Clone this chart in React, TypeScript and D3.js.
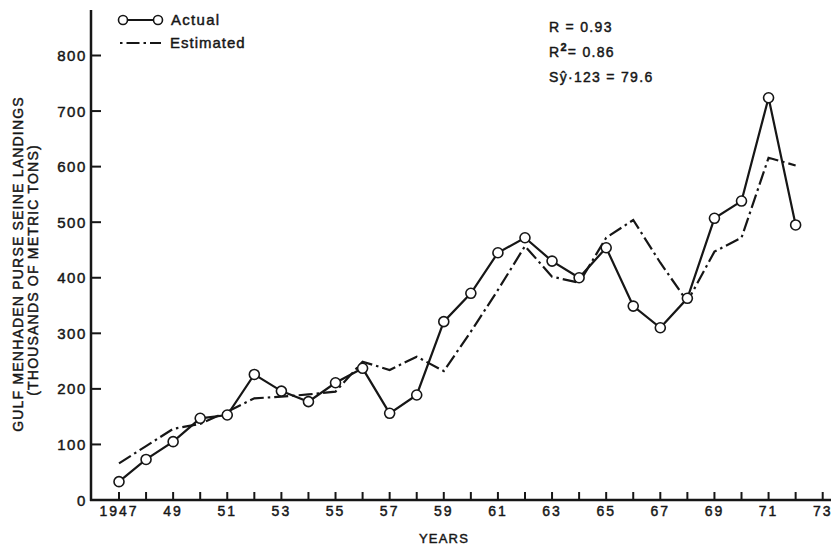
import React from "react";
import * as d3 from "d3";

const years = d3.range(1947, 1973);
const actual = [33, 73, 105, 147, 153, 226, 196, 177, 211, 237, 156, 189, 321, 372, 445, 472, 430, 400, 454, 349, 310, 363, 507, 538, 724, 495];
const estimated = [66, 97, 128, 137, 159, 183, 186, 190, 195, 249, 234, 258, 232, 303, 378, 457, 402, 391, 472, 504, 427, 357, 447, 472, 616, 602];
const yTicks = [0, 100, 200, 300, 400, 500, 600, 700, 800];
const xTickYears = d3.range(1947, 1974);
const xLabelYears = d3.range(1947, 1974, 2);

const W = 833, H = 546;
const FONT = "'Liberation Sans', Arial, Helvetica, sans-serif";
const INK = "#161616";
const TS = { stroke: INK, strokeWidth: 0.45 };

export default function App() {
  const x = d3.scaleLinear().domain([1947, 1973]).range([119, 822.7]);
  const y = d3.scaleLinear().domain([0, 800]).range([500, 55.5]);
  const axisX0 = 91;
  const axisY0 = 500;

  const lineA = d3.line<number>().x((_, i) => x(years[i])).y((d) => y(d));
  const dashPat = "14,4,2.5,4";

  return (
    <svg width={W} height={H} style={{ position: "absolute", left: 0, top: 0, background: "#fff" }} fontFamily={FONT}>
      <rect x={0} y={0} width={W} height={H} fill="#fff" />
      {/* axes */}
      <line x1={axisX0} y1={10} x2={axisX0} y2={axisY0 + 1} stroke={INK} strokeWidth={2.5} />
      <line x1={axisX0 - 1} y1={axisY0} x2={831} y2={axisY0} stroke={INK} strokeWidth={2.5} />
      {yTicks.map((t) => (
        <g key={t}>
          {t > 0 && <line x1={axisX0} x2={axisX0 + 10} y1={y(t)} y2={y(t)} stroke={INK} strokeWidth={2} />}
          <text x={87} y={y(t) + 5.5} textAnchor="end" fontSize={15} letterSpacing={1.6} fill={INK} {...TS}>{t}</text>
        </g>
      ))}
      {xTickYears.map((yr) => (
        <line key={yr} x1={x(yr)} x2={x(yr)} y1={axisY0} y2={axisY0 - 8} stroke={INK} strokeWidth={2} />
      ))}
      {xLabelYears.map((yr) => (
        <text key={yr} x={x(yr)} y={516} textAnchor="middle" fontSize={14} letterSpacing={2} fill={INK} {...TS}>
          {yr === 1947 ? "1947" : String(yr % 100)}
        </text>
      ))}
      <text x={444} y={543} textAnchor="middle" fontSize={13} letterSpacing={1.2} fill={INK} {...TS}>YEARS</text>
      {/* y axis label */}
      <text transform="translate(23,264) rotate(-90)" textAnchor="middle" fontSize={14} letterSpacing={1.2} fill={INK} {...TS}>
        GULF MENHADEN PURSE SEINE LANDINGS
      </text>
      <text transform="translate(38,270) rotate(-90)" textAnchor="middle" fontSize={14} letterSpacing={1.2} fill={INK} {...TS}>
        (THOUSANDS OF METRIC TONS)
      </text>

      {/* estimated */}
      <path d={lineA(estimated) ?? ""} fill="none" stroke={INK} strokeWidth={2.2} strokeDasharray={dashPat} />
      {/* actual */}
      <path d={lineA(actual) ?? ""} fill="none" stroke={INK} strokeWidth={2.2} />
      {actual.map((v, i) => (
        <circle key={i} cx={x(years[i])} cy={y(v)} r={5} fill="#fff" stroke={INK} strokeWidth={1.6} />
      ))}

      {/* legend */}
      <line x1={123} x2={158} y1={20} y2={20} stroke={INK} strokeWidth={2.2} />
      <circle cx={123} cy={20} r={4.5} fill="#fff" stroke={INK} strokeWidth={1.6} />
      <circle cx={158} cy={20} r={4.5} fill="#fff" stroke={INK} strokeWidth={1.6} />
      <text x={171} y={25} fontSize={15} letterSpacing={1.3} fill={INK} {...TS}>Actual</text>
      <line x1={120} x2={161} y1={43} y2={43} stroke={INK} strokeWidth={2.2} strokeDasharray="2.5,4,13,4" />
      <text x={170} y={48} fontSize={15} letterSpacing={1} fill={INK} {...TS}>Estimated</text>

      {/* stats */}
      <text x={549} y={32} fontSize={14} letterSpacing={1.3} fill={INK} {...TS}>R = 0.93</text>
      <text x={549} y={57} fontSize={14} letterSpacing={1.3} fill={INK} {...TS}>
        R<tspan dy={-6} fontSize={11} fontWeight="bold">2</tspan><tspan dy={6}>= 0.86</tspan>
      </text>
      <text x={549} y={82} fontSize={14} letterSpacing={1.3} fill={INK} {...TS}>
        S<tspan>ŷ</tspan><tspan>·123 = 79.6</tspan>
      </text>
    </svg>
  );
}
